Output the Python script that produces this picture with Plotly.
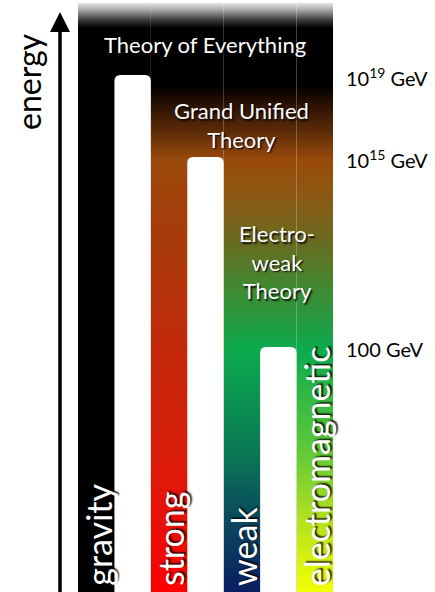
import plotly.graph_objects as go

# ---------------- data ----------------
forces = ["gravity", "strong", "weak", "electromagnetic"]
theories = ["Theory of Everything", "Grand Unified<br>Theory", "Electro-<br>weak<br>Theory"]
energy_labels = ["10<sup>19</sup> GeV", "10<sup>15</sup> GeV", "100 GeV"]
# diagram height (schematic energy level) at which forces unify: tops of the white bars
unify_level = [517, 435, 245]

# gradient colour stops per force column: (height, colour)
grad_gravity = [(0, "#000000"), (564, "#000000"), (572, "#3a3a3a"), (582, "#a8a8a8"), (589, "#e4e4e4")]
grad_upper = [(432, "#9a4a0c"), (462, "#5a2a08"), (487, "#2a1204"), (507, "#000000"),
              (564, "#000000"), (572, "#3a3a3a"), (582, "#a8a8a8"), (589, "#e4e4e4")]
grad_strong = [(0, "#ff0000"), (42, "#f00a04"), (142, "#d81e08"), (242, "#c42a0a"),
               (342, "#aa3a0a"), (392, "#a0400a")] + grad_upper
grad_mid = [(242, "#0caa4e"), (302, "#3f8a32"), (352, "#6a6a20"), (392, "#8a5a14")] + grad_upper
grad_weak = [(0, "#0a1e62"), (75, "#0a4a5c"), (142, "#0a7a55")] + grad_mid
grad_em = [(0, "#f4ff00"), (75, "#b0e020"), (142, "#60c838")] + grad_mid
gradients = [grad_gravity, grad_strong, grad_weak, grad_em]

# ---------------- geometry ----------------
W, H = 435, 592
x0, x1 = 78, 333
top = 589
slot = (x1 - x0) / 7

fig = go.Figure()

# coloured background columns (each force + the gap to its right)
for i, f in enumerate(forces):
    left = x0 + 2 * i * slot
    right = min(x0 + (2 * i + 2) * slot, x1)
    stops = gradients[i]
    cs = [[h / top, c] for h, c in stops]
    fig.add_trace(go.Scatter(
        x=[left, right, right, left, left], y=[0, 0, top, top, 0],
        mode="lines", line=dict(width=0), fill="toself",
        fillgradient=dict(type="vertical", colorscale=cs, start=0, stop=top),
        hoverinfo="skip", showlegend=False))

# white separator bars with rounded tops
r = 6
for i, lvl in enumerate(unify_level):
    left = x0 + (2 * i + 1) * slot
    right = left + slot
    path = (f"M {left},0 L {left},{lvl - r} Q {left},{lvl} {left + r},{lvl} "
            f"L {right - r},{lvl} Q {right},{lvl} {right},{lvl - r} L {right},0 Z")
    fig.add_shape(type="path", path=path, xref="x", yref="y",
                  fillcolor="white", line=dict(width=0), layer="above")

shadow = "1.5px 1.5px 1.5px rgba(0,0,0,0.85)"
font_name = "Lato"

# theory labels
theory_pos = [(205, 548), (241, 467), (277, 330)]
for t, (tx, ty) in zip(theories, theory_pos):
    fig.add_annotation(x=tx, y=ty, text=t, showarrow=False, xanchor="center", yanchor="middle",
                       font=dict(family=font_name, size=22, color="white", shadow=shadow))

# force labels (rotated)
for i, f in enumerate(forces):
    cx = x0 + (2 * i + 0.5) * slot + 1.5
    fig.add_annotation(x=cx, y=4, text=f, showarrow=False, textangle=-90,
                       xanchor="center", yanchor="bottom",
                       font=dict(family=font_name, size=34, color="white", shadow=shadow))

# energy labels
for lab, lvl in zip(energy_labels, unify_level):
    fig.add_annotation(x=344, y=lvl - 2, text=lab, showarrow=False, xanchor="left", yanchor="middle",
                       font=dict(family=font_name, size=20, color="black"))

# energy axis arrow
fig.add_shape(type="line", x0=60, x1=60, y0=0, y1=562, xref="x", yref="y",
              line=dict(color="black", width=3.5))
fig.add_shape(type="path", path="M 50,560 L 70,560 L 60,580 Z", xref="x", yref="y",
              fillcolor="black", line=dict(width=0))
fig.add_annotation(x=28, y=510, text="energy", showarrow=False, textangle=-90,
                   xanchor="center", yanchor="middle",
                   font=dict(family=font_name, size=32, color="black"))

fig.update_xaxes(range=[0, W], visible=False, fixedrange=True)
fig.update_yaxes(range=[0, H], visible=False, fixedrange=True)
fig.update_layout(width=W, height=H, margin=dict(l=0, r=0, t=0, b=0),
                  paper_bgcolor="white", plot_bgcolor="white", showlegend=False)

fig.write_html("out.html", config={"displayModeBar": False},
               post_script="document.body.style.margin='0';document.body.style.overflow='hidden';")
